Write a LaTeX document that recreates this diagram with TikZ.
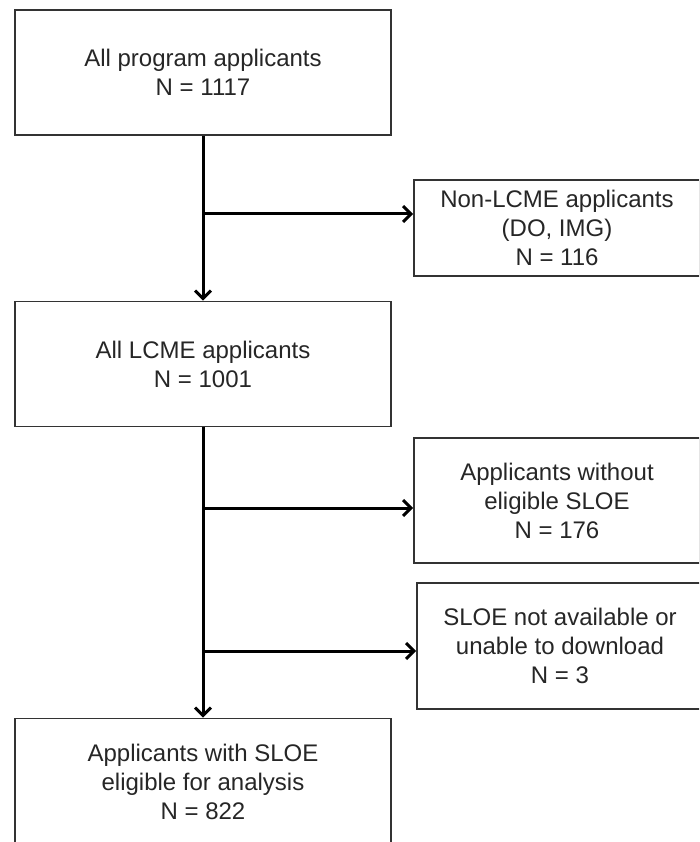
\documentclass[tikz,border=0pt]{standalone}
\usepackage{fontspec}
\setmainfont{Liberation Sans}
\usetikzlibrary{arrows.meta}
\begin{document}
\begin{tikzpicture}[x=1pt,y=-1pt,
				box/.style = {rectangle,draw=black!80,line width=1.6pt,align=center,inner sep=0pt,
				font=\fontsize{24}{29}\selectfont,text=black!85},
				left box/.style = {box,minimum width=376pt,minimum height=125pt},
				side box/.style = {box,minimum width=286pt},
				flow/.style = {line width=3pt,-{Straight Barb[length=8pt,width=16pt,line width=3pt]}}]
				
				\clip (0,0) rectangle (699,842);
				\fill[white] (0,0) rectangle (699,842);
				
				\node[left box] (1) at (203,72.5) {All program applicants\\N = 1117};
				\node[side box,minimum height=96pt] (2) at (557,228) {Non-LCME applicants\\(DO, IMG)\\N = 116};
				\node[left box] (3) at (203,364) {All LCME applicants\\N = 1001};
				\node[side box,minimum height=125pt] (4) at (557,500.5) {Applicants without\\eligible SLOE\\N = 176};
				\node[side box,minimum height=126pt] (5) at (560,646) {SLOE not available or\\unable to download\\N = 3};
				\node[left box,minimum height=127pt] (6) at (203,782) {Applicants with SLOE\\eligible for analysis\\N = 822};
				
				\coordinate (a) at (203,214);
				\coordinate (b) at (203,508);
				\coordinate (c) at (203,651);
				
				\path[flow]
				(1) edge node {} (3)
				(3) edge node {} (6)
				(a) edge node {} (a -| 2.west)
				(b) edge node {} (b -| 4.west)
				(c) edge node {} (c -| 5.west);
				\end{tikzpicture}
\end{document}
